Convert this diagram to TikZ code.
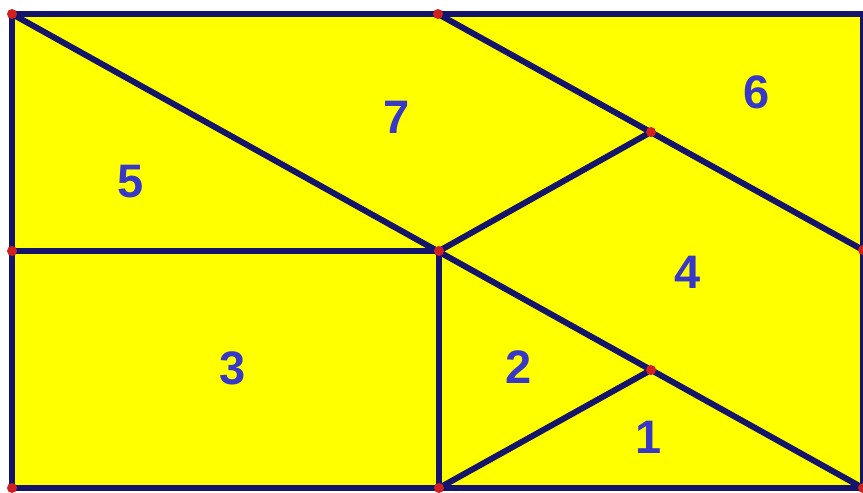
\documentclass[tikz,border=0pt]{standalone}
\usepackage{fontspec}
\setmainfont{Liberation Sans}
\definecolor{edge}{HTML}{14146A}
\definecolor{fillc}{HTML}{FFFF00}
\definecolor{lab}{HTML}{3838C8}
\definecolor{dot}{HTML}{D02020}
\begin{document}
\begin{tikzpicture}[x=1pt,y=-1pt,
  seg/.style={draw=edge,line width=6pt,line cap=round},
  lbl/.style={text=lab,font=\fontsize{47}{47}\selectfont\bfseries,inner sep=0pt},
  pt/.style={circle,fill=dot,inner sep=0pt,minimum size=10pt}]
\useasboundingbox (0,0) rectangle (863,493);
\coordinate (TL) at (12,14);
\coordinate (TM) at (438,14);
\coordinate (TR) at (863,14);
\coordinate (LM) at (12,251);
\coordinate (C) at (439,251);
\coordinate (RM) at (863,250);
\coordinate (P) at (651,132);
\coordinate (Q) at (651,370);
\coordinate (BL) at (12,488);
\coordinate (BM) at (439,488);
\coordinate (BR) at (863,488);
\fill[fillc] (TL) rectangle (BR);
\draw[seg] (TL) -- (TR) -- (BR) -- (BL) -- cycle;
\draw[seg] (TL) -- (BR);
\draw[seg] (TM) -- (RM);
\draw[seg] (LM) -- (C);
\draw[seg] (C) -- (BM);
\draw[seg] (C) -- (P);
\draw[seg] (BM) -- (Q);
\foreach \p in {TL,TM,LM,C,RM,P,Q,BL,BM,BR}
  \node[pt] at (\p) {};
\node[lbl] (n7) at (397,117) {7};
\node[lbl] (n6) at (757,92) {6};
\node[lbl] (n5) at (131,182) {5};
\node[lbl] (n4) at (688,272) {4};
\node[lbl] (n3) at (233,368) {3};
\node[lbl] (n2) at (519,367) {2};
\node[lbl] (n1) at (649,437) {1};
\end{tikzpicture}
\end{document}
